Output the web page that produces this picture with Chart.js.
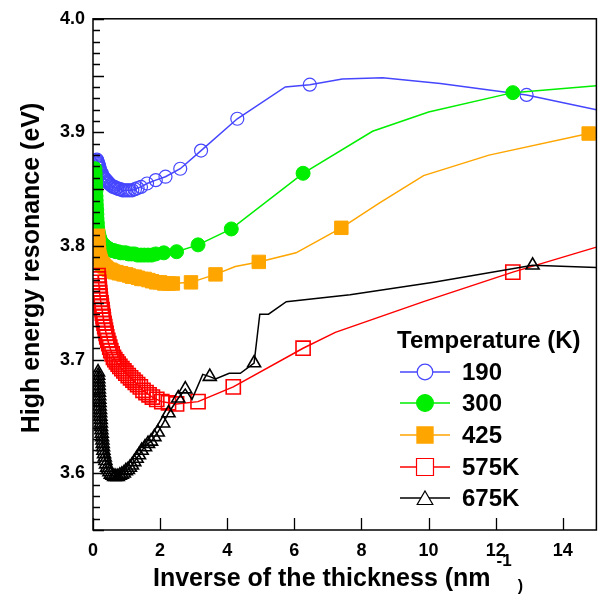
<!DOCTYPE html>
<html>
<head>
<meta charset="utf-8">
<title>High energy resonance</title>
<script src="https://cdn.jsdelivr.net/npm/chart.js"></script>
<style>
  html, body { margin: 0; padding: 0; background: #fff; }
</style>
</head>
<body>
<canvas id="myChart" width="608" height="596"></canvas>
<script>
// values
const xTicks = [0, 2, 4, 6, 8, 10, 12, 14];
const yTicks = [3.6, 3.7, 3.8, 3.9, 4.0];
const temps = ['190', '300', '425', '575K', '675K'];

// 190 K : markers + extra corners of the drawn curve
const t190X = [0.12, 0.13, 0.14, 0.15, 0.16, 0.17, 0.18, 0.19, 0.20, 0.22, 0.24, 0.26, 0.28, 0.30, 0.33, 0.36, 0.39, 0.42, 0.45, 0.48, 0.52, 0.56, 0.60, 0.64, 0.68, 0.72, 0.77, 0.82, 0.87, 0.92, 0.98, 1.04, 1.10, 1.17, 1.25, 1.33, 1.43, 1.61, 1.87, 2.16, 2.60, 3.22, 4.30, 6.46, 12.92];
const t190Y = [3.876, 3.875, 3.874, 3.873, 3.872, 3.871, 3.870, 3.869, 3.868, 3.866, 3.865, 3.864, 3.862, 3.861, 3.860, 3.859, 3.858, 3.857, 3.856, 3.855, 3.854, 3.853, 3.852, 3.852, 3.851, 3.851, 3.850, 3.850, 3.849, 3.849, 3.849, 3.849, 3.849, 3.849, 3.850, 3.851, 3.852, 3.855, 3.858, 3.861, 3.868, 3.884, 3.912, 3.942, 3.933];
const t190LineX = [5.73, 7.43, 8.63, 10.35, 15.0];
const t190LineY = [3.940, 3.947, 3.948, 3.943, 3.920];

// 300 K
const t300X = [0.06, 0.065, 0.07, 0.075, 0.08, 0.085, 0.09, 0.095, 0.10, 0.11, 0.115, 0.12, 0.13, 0.14, 0.16, 0.18, 0.20, 0.22, 0.25, 0.28, 0.32, 0.36, 0.40, 0.45, 0.50, 0.56, 0.62, 0.68, 0.75, 0.82, 0.90, 0.98, 1.06, 1.15, 1.24, 1.33, 1.43, 1.53, 1.64, 1.75, 1.87, 2.11, 2.49, 3.13, 4.12, 6.26, 12.51];
const t300Y = [3.868, 3.864, 3.860, 3.856, 3.852, 3.848, 3.844, 3.840, 3.836, 3.832, 3.828, 3.824, 3.820, 3.816, 3.812, 3.809, 3.807, 3.805, 3.803, 3.802, 3.801, 3.800, 3.799, 3.798, 3.797, 3.796, 3.796, 3.795, 3.795, 3.794, 3.794, 3.794, 3.793, 3.793, 3.793, 3.792, 3.792, 3.792, 3.792, 3.792, 3.793, 3.794, 3.795, 3.801, 3.815, 3.864, 3.935];
const t300LineX = [8.33, 10.0, 15.0];
const t300LineY = [3.901, 3.918, 3.941];

// 425 K
const t425X = [0.15, 0.155, 0.16, 0.17, 0.18, 0.19, 0.21, 0.23, 0.25, 0.28, 0.31, 0.34, 0.38, 0.42, 0.47, 0.52, 0.58, 0.64, 0.70, 0.77, 0.84, 0.91, 0.99, 1.07, 1.16, 1.25, 1.34, 1.44, 1.54, 1.65, 1.76, 1.88, 2.00, 2.12, 2.25, 2.38, 2.92, 3.65, 4.94, 7.40, 14.77];
const t425Y = [3.809, 3.805, 3.801, 3.797, 3.794, 3.791, 3.789, 3.787, 3.785, 3.784, 3.783, 3.782, 3.781, 3.780, 3.779, 3.779, 3.778, 3.777, 3.777, 3.776, 3.776, 3.775, 3.775, 3.774, 3.773, 3.773, 3.772, 3.771, 3.771, 3.770, 3.769, 3.768, 3.768, 3.767, 3.767, 3.767, 3.768, 3.775, 3.786, 3.816, 3.899];
const t425LineX = [4.24, 6.05, 8.54, 9.85, 11.8, 15.0];
const t425LineY = [3.782, 3.794, 3.838, 3.862, 3.880, 3.901];

// 575 K
const t575X = [0.15, 0.16, 0.17, 0.18, 0.19, 0.20, 0.21, 0.22, 0.24, 0.25, 0.27, 0.28, 0.30, 0.31, 0.33, 0.35, 0.37, 0.39, 0.41, 0.44, 0.47, 0.50, 0.53, 0.57, 0.61, 0.65, 0.70, 0.75, 0.80, 0.86, 0.92, 0.98, 1.05, 1.12, 1.19, 1.26, 1.33, 1.41, 1.49, 1.58, 1.67, 1.77, 1.90, 2.05, 2.25, 2.49, 3.13, 4.18, 6.26, 12.51];
const t575Y = [3.774, 3.771, 3.768, 3.765, 3.762, 3.759, 3.756, 3.753, 3.750, 3.747, 3.744, 3.741, 3.738, 3.735, 3.732, 3.729, 3.726, 3.723, 3.720, 3.717, 3.714, 3.711, 3.708, 3.705, 3.702, 3.700, 3.698, 3.696, 3.694, 3.692, 3.690, 3.688, 3.686, 3.684, 3.682, 3.680, 3.678, 3.676, 3.673, 3.671, 3.669, 3.667, 3.665, 3.663, 3.662, 3.661, 3.663, 3.676, 3.710, 3.777];
const t575LineX = [7.22, 9.85, 15.0];
const t575LineY = [3.724, 3.751, 3.799];

// 675 K
const t675X = [0.15, 0.155, 0.16, 0.165, 0.17, 0.175, 0.18, 0.185, 0.19, 0.195, 0.20, 0.21, 0.215, 0.22, 0.23, 0.235, 0.24, 0.25, 0.26, 0.27, 0.28, 0.29, 0.30, 0.31, 0.33, 0.35, 0.37, 0.39, 0.42, 0.45, 0.49, 0.53, 0.58, 0.63, 0.68, 0.74, 0.80, 0.86, 0.92, 0.98, 1.04, 1.10, 1.16, 1.23, 1.30, 1.37, 1.45, 1.55, 1.64, 1.73, 1.83, 1.93, 2.09, 2.25, 2.54, 2.75, 3.48, 4.80, 13.10];
const t675Y = [3.689, 3.686, 3.683, 3.680, 3.677, 3.674, 3.671, 3.668, 3.665, 3.662, 3.659, 3.656, 3.653, 3.650, 3.647, 3.644, 3.641, 3.638, 3.635, 3.632, 3.629, 3.626, 3.623, 3.620, 3.617, 3.614, 3.611, 3.608, 3.605, 3.603, 3.601, 3.599, 3.598, 3.597, 3.597, 3.597, 3.598, 3.599, 3.600, 3.602, 3.603, 3.605, 3.607, 3.610, 3.613, 3.616, 3.620, 3.623, 3.626, 3.628, 3.632, 3.636, 3.644, 3.653, 3.666, 3.674, 3.685, 3.697, 3.783];
const t675LineX = [2.95, 3.27, 3.65, 4.06, 4.39, 4.97, 5.23, 5.76, 7.66, 10.15, 15.0];
const t675LineY = [3.665, 3.687, 3.683, 3.688, 3.688, 3.740, 3.740, 3.751, 3.757, 3.768, 3.781];

const FONT = "'Liberation Sans', Arial, Helvetica, sans-serif";

const series = [
  { x: t190X, y: t190Y, lx: t190LineX, ly: t190LineY, color: '#4646ff', style: 'circle', r: 6.5, fill: false, bw: 1.2 },
  { x: t300X, y: t300Y, lx: t300LineX, ly: t300LineY, color: '#00ee00', style: 'circle', r: 7, fill: true, bw: 1 },
  { x: t425X, y: t425Y, lx: t425LineX, ly: t425LineY, color: '#ffa500', style: 'rect', r: 9.5, fill: true, bw: 1 },
  { x: t575X, y: t575Y, lx: t575LineX, ly: t575LineY, color: '#ff0000', style: 'rect', r: 10, fill: false, bw: 1.6 },
  { x: t675X, y: t675Y, lx: t675LineX, ly: t675LineY, color: '#000000', style: 'triangle', r: 7.5, fill: false, bw: 1.6 }
];

const toPts = (xs, ys) => xs.map((v, i) => ({ x: v, y: ys[i] }));

const datasets = [];
series.forEach((s, i) => {
  const markers = toPts(s.x, s.y);
  const curve = markers.concat(toPts(s.lx, s.ly)).sort((a, b) => a.x - b.x);
  const base = (series.length - i) * 2;
  datasets.push({
    label: temps[i] + ' line',
    data: curve,
    showLine: true,
    borderColor: s.color,
    borderWidth: 1.5,
    pointRadius: 0,
    tension: 0,
    order: base + 1
  });
  datasets.push({
    label: temps[i],
    data: markers,
    showLine: false,
    pointStyle: s.style,
    pointRadius: s.r,
    pointBorderWidth: s.bw,
    pointBorderColor: s.color,
    pointBackgroundColor: s.fill ? s.color : 'rgba(0,0,0,0)',
    order: base
  });
});

// legend marker, a bit larger than in the plot like the original
function shape(ctx, s, x, y) {
  const r = s.r * 1.2;
  ctx.beginPath();
  if (s.style === 'circle') {
    ctx.arc(x, y, r, 0, Math.PI * 2);
  } else if (s.style === 'rect') {
    const h = r * Math.SQRT1_2;
    ctx.rect(x - h, y - h, 2 * h, 2 * h);
  } else {
    for (let k = 0; k < 3; k++) {
      const a = -Math.PI / 2 + k * 2 * Math.PI / 3;
      const px = x + Math.cos(a) * r, py = y + 2 + Math.sin(a) * r;
      if (k === 0) ctx.moveTo(px, py); else ctx.lineTo(px, py);
    }
    ctx.closePath();
  }
  ctx.fillStyle = s.fill ? s.color : '#fff';
  ctx.fill();
  ctx.lineWidth = 1.2;
  ctx.strokeStyle = s.color;
  ctx.stroke();
}

const framePlugin = {
  id: 'frame',
  afterDraw(chart) {
    const ctx = chart.ctx;
    const a = chart.chartArea;
    const xs = chart.scales.x, ys = chart.scales.y;
    ctx.save();
    ctx.strokeStyle = '#000';
    ctx.lineWidth = 1.5;
    ctx.strokeRect(a.left, a.top, a.right - a.left, a.bottom - a.top);

    // inward ticks
    ctx.lineWidth = 1.3;
    ctx.beginPath();
    for (let i = 0; i <= 45; i++) {
      const v = 3.55 + i * 0.01;
      const py = Math.round(ys.getPixelForValue(v)) + 0.5;
      const len = (i % 5 === 0) ? 11 : 7;
      ctx.moveTo(a.left, py);
      ctx.lineTo(a.left + len, py);
    }
    xTicks.forEach(v => {
      const px = Math.round(xs.getPixelForValue(v)) + 0.5;
      ctx.moveTo(px, a.bottom);
      ctx.lineTo(px, a.bottom - 12);
    });
    ctx.stroke();

    // axis titles
    ctx.fillStyle = '#000';
    ctx.font = 'bold 25px ' + FONT;
    ctx.textAlign = 'center';
    ctx.textBaseline = 'middle';
    ctx.save();
    ctx.translate(32, 268);
    ctx.rotate(-Math.PI / 2);
    ctx.fillText('High energy resonance (eV)', 0, 0);
    ctx.restore();

    ctx.textAlign = 'left';
    ctx.textBaseline = 'alphabetic';
    const main = 'Inverse of the thickness (nm';
    const x0 = 153;
    ctx.font = 'bold 25px ' + FONT;
    ctx.fillText(main, x0, 586);
    let cx = x0 + ctx.measureText(main).width + 6;
    ctx.font = 'bold 17px ' + FONT;
    ctx.fillText('-1', cx, 566);
    cx += ctx.measureText('-1').width + 6;
    ctx.font = 'bold 16px ' + FONT;
    ctx.fillText(')', cx, 591);

    // legend
    ctx.font = 'bold 24px ' + FONT;
    ctx.textBaseline = 'middle';
    ctx.fillText('Temperature (K)', 397, 341);
    const rows = [372, 403, 435, 467, 498];
    series.forEach((s, i) => {
      const y = rows[i];
      ctx.beginPath();
      ctx.strokeStyle = s.color;
      ctx.lineWidth = 1.5;
      ctx.moveTo(400, y);
      ctx.lineTo(450, y);
      ctx.stroke();
      shape(ctx, s, 425, y);
      ctx.fillStyle = '#000';
      ctx.font = 'bold 24px ' + FONT;
      ctx.fillText(temps[i], 462, y + 1);
    });
    ctx.restore();
  }
};

const config = {
  type: 'scatter',
  data: { datasets: datasets },
  options: {
    responsive: false,
    animation: false,
    devicePixelRatio: 1,
    layout: { padding: { top: 15, right: 2, left: 0, bottom: 0 } },
    plugins: {
      legend: { display: false },
      tooltip: { enabled: false }
    },
    scales: {
      x: {
        type: 'linear',
        min: 0,
        max: 15,
        grid: { display: false, drawTicks: false },
        border: { display: false },
        afterBuildTicks: s => { s.ticks = xTicks.map(v => ({ value: v })); },
        afterFit: s => { s.height = 66; },
        ticks: {
          padding: 10,
          color: '#000',
          font: { family: FONT, size: 18, weight: 'bold' },
          callback: v => String(v)
        }
      },
      y: {
        type: 'linear',
        min: 3.55,
        max: 4.0,
        grid: { display: false, drawTicks: false },
        border: { display: false },
        afterBuildTicks: s => { s.ticks = yTicks.map(v => ({ value: v })); },
        afterFit: s => { s.width = 93; },
        ticks: {
          padding: 8,
          color: '#000',
          font: { family: FONT, size: 18, weight: 'bold' },
          callback: v => Number(v).toFixed(1)
        }
      }
    }
  },
  plugins: [framePlugin]
};

const myChart = new Chart(document.getElementById('myChart'), config);
</script>
</body>
</html>
